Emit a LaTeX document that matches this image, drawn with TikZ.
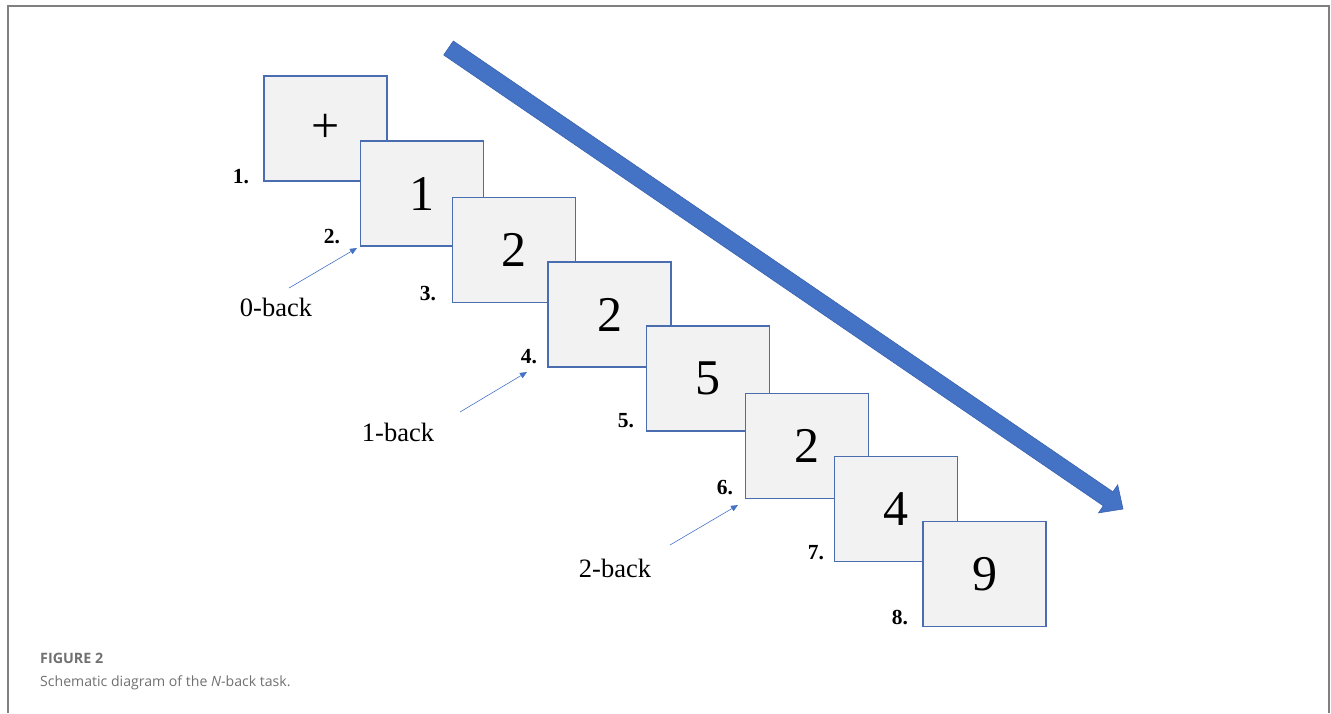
\documentclass[tikz,border=0pt]{standalone}
\usepackage{fontspec}
\setmainfont{Liberation Serif}
\newfontfamily\capfont{Open Sans}
\usetikzlibrary{arrows.meta}
\definecolor{boxblue}{HTML}{4A6DB0}
\definecolor{arrblue}{HTML}{4472C4}
\definecolor{arrline}{HTML}{3A62AE}
\definecolor{boxfill}{HTML}{F2F2F2}
\definecolor{framegray}{HTML}{808080}
\definecolor{capgray}{HTML}{707070}
\tikzset{
  card/.style={draw=boxblue, line width=1.2pt, fill=boxfill, minimum width=123pt, minimum height=105pt, inner sep=0pt, font=\fontsize{50}{50}\selectfont},
  numlab/.style={inner sep=0pt, font=\bfseries\fontsize{21.5}{21.5}\selectfont},
  backlab/.style={inner sep=0pt, font=\fontsize{26.5}{26.5}\selectfont},
  pointer/.style={draw=arrblue, line width=0.6pt, -{Triangle[length=7pt,width=6pt]}},
}
\begin{document}
\begin{tikzpicture}[x=1pt,y=-1pt]
\useasboundingbox (0,0) rectangle (1331,713);
% frame
\draw[framegray, line width=2pt] (8,713) -- (8,6) -- (1329,6) -- (1329,713);
% big time arrow
\fill[arrblue, draw=arrline, line width=0.6pt, line join=miter]
  (453.3,41.0) -- (1112.9,491.8) -- (1117.7,484.8) -- (1123,509) -- (1098.5,512.9) -- (1103.3,505.8) -- (443.7,55.0) -- cycle;
% cards
\node[card] (c1) at (325.5,128.5) {+};
\node[card] (c2) at (422,193.5) {1};
\node[card] (c3) at (514,250) {2};
\node[card] (c4) at (609.5,314.5) {2};
\node[card] (c5) at (708,378.5) {5};
\node[card] (c6) at (807,446) {2};
\node[card] (c7) at (896,509) {4};
\node[card] (c8) at (984.5,574) {9};
% numbers
\node[numlab] (n1) at (241,177) {1.};
\node[numlab] (n2) at (332,237) {2.};
\node[numlab] (n3) at (428,294) {3.};
\node[numlab] (n4) at (529,357) {4.};
\node[numlab] (n5) at (626,421) {5.};
\node[numlab] (n6) at (725,488) {6.};
\node[numlab] (n7) at (816,553) {7.};
\node[numlab] (n8) at (900,617) {8.};
% n-back labels
\node[backlab] (b0) at (276,307) {0-back};
\node[backlab] (b1) at (398,432) {1-back};
\node[backlab] (b2) at (615,568) {2-back};
\coordinate (t0) at (357,248);
\coordinate (t1) at (527,372);
\coordinate (t2) at (738,505);
\coordinate (s0) at (289,288);
\coordinate (s1) at (460,412);
\coordinate (s2) at (670,545);
\draw[pointer] (s0) -- (t0);
\draw[pointer] (s1) -- (t1);
\draw[pointer] (s2) -- (t2);
% caption
\node[anchor=west, inner sep=0pt, text=capgray, font=\capfont\bfseries\fontsize{14.3}{14.3}\selectfont] (cap1) at (40,658) {FIGURE 2};
\node[anchor=west, inner sep=0pt, text=capgray, font=\capfont\fontsize{14.1}{14.1}\selectfont] (cap2) at (40,683) {Schematic diagram of the \textit{N}-back task.};
\end{tikzpicture}
\end{document}
